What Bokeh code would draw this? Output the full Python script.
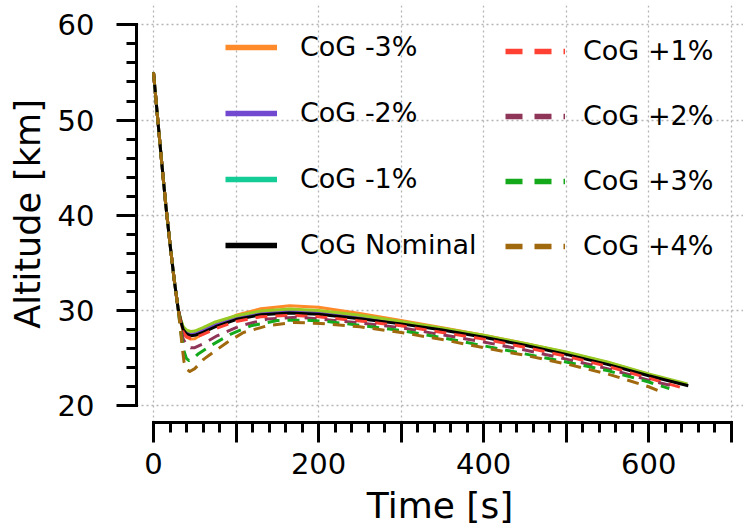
from bokeh.plotting import figure
from bokeh.models import Range1d, FixedTicker, Legend, LegendItem
from bokeh.embed import file_html
from bokeh.resources import INLINE

# ---------------- data ----------------
T_COMMON = [0, 5, 10, 15, 20, 25, 30]
ALT_COMMON = [55.0, 50.2, 45.5, 41.0, 37.0, 33.3, 30.1]

T_M3 = [33, 36, 40, 45, 50, 60, 75, 100, 130, 165, 200, 250, 300, 350, 400, 450, 500, 550, 600, 645]
ALT_M3 = [28.8, 27.8, 27.2, 27.0, 27.05, 27.6, 28.5, 29.5, 30.2, 30.5, 30.35, 29.7, 28.95, 28.2, 27.4, 26.55, 25.6, 24.55, 23.3, 22.2]

T_M2 = [33, 36, 40, 45, 50, 60, 75, 100, 130, 165, 200, 250, 300, 350, 400, 450, 500, 550, 600, 647]
ALT_M2 = [29.0, 28.15, 27.75, 27.55, 27.6, 27.95, 28.55, 29.25, 29.75, 29.95, 29.8, 29.3, 28.7, 28.05, 27.3, 26.45, 25.5, 24.45, 23.25, 22.2]

T_M1 = [33, 36, 40, 45, 50, 60, 75, 100, 130, 165, 200, 250, 300, 350, 400, 450, 500, 550, 600, 647]
ALT_M1 = [29.1, 28.3, 27.95, 27.8, 27.85, 28.2, 28.8, 29.45, 29.95, 30.15, 30.0, 29.5, 28.85, 28.15, 27.4, 26.55, 25.65, 24.6, 23.35, 22.3]

T_NOM = [33, 36, 40, 45, 50, 60, 75, 100, 130, 165, 200, 250, 300, 350, 400, 450, 500, 550, 600, 648]
ALT_NOM = [28.9, 28.0, 27.55, 27.35, 27.4, 27.7, 28.3, 29.05, 29.55, 29.75, 29.6, 29.15, 28.6, 27.95, 27.2, 26.35, 25.4, 24.35, 23.15, 22.1]

T_P1 = [33, 36, 40, 45, 50, 60, 75, 100, 130, 165, 200, 250, 300, 350, 400, 450, 500, 550, 600, 642]
ALT_P1 = [28.7, 27.7, 27.25, 27.1, 27.15, 27.5, 28.1, 28.85, 29.35, 29.5, 29.35, 28.9, 28.4, 27.7, 27.0, 26.15, 25.2, 24.15, 22.9, 21.85]

T_P2 = [33, 36, 40, 45, 50, 60, 77, 105, 138, 174, 202, 250, 300, 350, 400, 450, 500, 550, 600, 628]
ALT_P2 = [28.3, 27.0, 26.4, 26.1, 26.1, 26.5, 27.35, 28.4, 29.1, 29.3, 29.1, 28.7, 28.2, 27.45, 26.7, 25.85, 24.9, 23.9, 22.7, 22.1]

T_P3 = [33, 36, 40, 43, 48, 55, 70, 93, 118, 150, 182, 210, 250, 300, 350, 400, 450, 500, 550, 600, 625]
ALT_P3 = [27.8, 26.0, 24.95, 24.75, 24.95, 25.5, 26.35, 27.5, 28.4, 28.95, 29.0, 28.85, 28.45, 27.9, 27.15, 26.3, 25.45, 24.6, 23.7, 22.5, 21.8]

T_P4 = [33, 35, 37, 40, 44, 50, 61, 89, 109, 138, 170, 202, 250, 300, 350, 400, 450, 500, 550, 600, 613]
ALT_P4 = [27.7, 26.0, 24.6, 23.85, 23.6, 23.9, 24.9, 26.65, 27.7, 28.4, 28.75, 28.65, 28.3, 27.7, 26.95, 26.1, 25.3, 24.4, 23.35, 22.0, 21.55]

LABELS_LEFT = ["CoG -3%", "CoG -2%", "CoG -1%", "CoG Nominal"]
LABELS_RIGHT = ["CoG +1%", "CoG +2%", "CoG +3%", "CoG +4%"]
X_TITLE = "Time [s]"
Y_TITLE = "Altitude [km]"

X_MAJOR = [0, 100, 200, 300, 400, 500, 600, 700]
X_MINOR = list(range(0, 701, 20))
X_LABEL_SKIP = [100, 300, 500, 700]
Y_MAJOR = [20, 30, 40, 50, 60]
Y_MINOR = list(range(20, 61, 2))

# ---------------- styles ----------------
FONT = "DejaVu Sans"
C_M3 = "#FF8A2A"
C_M2 = "#7248D0"
C_M1_LINE = "#97CA22"
C_M1_LEG = "#14CC96"
C_NOM = "#000000"
C_P1 = "#FF4033"
C_P2 = "#8E3558"
C_P3 = "#14A81B"
C_P4 = "#A0690E"
DASH = "12 8"
LEG_DASH = "17 12"
LW = 3
LEG_LW = 5.5

p = figure(width=743, height=528,
           x_range=Range1d(-20.6, 714.9), y_range=Range1d(18.245, 62.03),
           toolbar_location=None, output_backend="svg",
           min_border_left=136, min_border_right=0, min_border_top=5, min_border_bottom=106,
           outline_line_color=None)

# grids
p.xgrid.ticker = FixedTicker(ticks=X_MAJOR)
p.ygrid.ticker = FixedTicker(ticks=Y_MAJOR)
for g in (p.xgrid, p.ygrid):
    g.grid_line_color = "#b4b4b4"
    g.grid_line_dash = "2 3"
    g.grid_line_width = 1.3

def style_axis(ax):
    ax.axis_line_width = 3
    ax.axis_line_cap = "square"
    ax.major_tick_line_width = 3
    ax.minor_tick_line_width = 3
    ax.major_tick_out = 20
    ax.major_tick_in = 0
    ax.minor_tick_out = 10
    ax.minor_tick_in = 0
    ax.major_label_text_font = FONT
    ax.major_label_text_font_size = "29px"
    ax.major_label_text_color = "#000000"
    ax.axis_label_text_font = FONT
    ax.axis_label_text_font_style = "normal"
    ax.axis_label_text_color = "#000000"

yax = p.yaxis[0]
yax.bounds = (20, 60)
yax.ticker = FixedTicker(ticks=Y_MAJOR, minor_ticks=Y_MINOR)
style_axis(yax)
yax.major_label_standoff = 22
yax.axis_label = Y_TITLE
yax.axis_label_text_font_size = "35px"
yax.axis_label_standoff = 7

xax = p.xaxis[0]
xax.bounds = (0, 700)
xax.ticker = FixedTicker(ticks=X_MAJOR, minor_ticks=X_MINOR)
xax.major_label_overrides = {t: "" for t in X_LABEL_SKIP}
style_axis(xax)
xax.major_label_standoff = 10
xax.axis_label = X_TITLE
xax.axis_label_text_font_size = "36px"
xax.axis_label_standoff = 8

# lines
def series(t, a, color, dash=None):
    kw = dict(line_color=color, line_width=LW, line_join="round", line_cap="butt")
    if dash:
        kw["line_dash"] = dash
    return p.line(T_COMMON + t, ALT_COMMON + a, **kw)

series(T_M3, ALT_M3, C_M3)
series(T_M2, ALT_M2, C_M2)
series(T_M1, ALT_M1, C_M1_LINE)
series(T_NOM, ALT_NOM, C_NOM)
series(T_P1, ALT_P1, C_P1, DASH)
series(T_P2, ALT_P2, C_P2, DASH)
series(T_P3, ALT_P3, C_P3, DASH)
series(T_P4, ALT_P4, C_P4, DASH)

# legend glyph renderers (placed outside the visible range, thicker like the reference legend)
def leg_glyph(color, dash=None):
    kw = dict(line_color=color, line_width=LEG_LW, line_cap="butt")
    if dash:
        kw["line_dash"] = dash
    return p.line([-100, -90], [0, 0], **kw)

def legend_box(labels, renderers, x, y, gw, standoff, spacing):
    items = [LegendItem(label=l, renderers=[r]) for l, r in zip(labels, renderers)]
    leg = Legend(items=items, location=(x, y), orientation="vertical",
                 glyph_width=gw, glyph_height=30, label_height=30, spacing=spacing,
                 label_standoff=standoff, padding=0, margin=0,
                 border_line_color=None, background_fill_alpha=0,
                 label_text_font=FONT, label_text_font_size="27px",
                 label_text_color="#000000")
    p.add_layout(leg, "center")
    return leg

legend_box(LABELS_LEFT,
           [leg_glyph(C_M3), leg_glyph(C_M2), leg_glyph(C_M1_LEG), leg_glyph(C_NOM)],
           89, 162, 52, 23, 35)
legend_box(LABELS_RIGHT,
           [leg_glyph(C_P1, LEG_DASH), leg_glyph(C_P2, LEG_DASH),
            leg_glyph(C_P3, LEG_DASH), leg_glyph(C_P4, LEG_DASH)],
           369, 161, 60, 18, 34)

open("out.html", "w").write(file_html(p, INLINE))
